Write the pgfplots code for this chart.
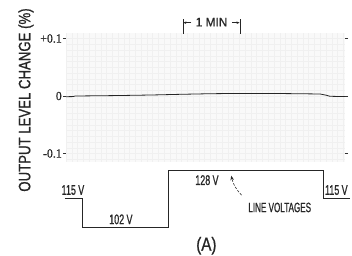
\documentclass[border=0pt]{standalone}
\usepackage{fontspec}
\setmainfont{Liberation Sans}[FakeStretch=0.8]
\newfontfamily\ylabfont{Liberation Sans}[FakeStretch=0.8,FakeBold=0.8]
\newfontfamily\labfont{Liberation Sans}[FakeStretch=0.64,FakeBold=0.8]
\newfontfamily\lvfont{Liberation Sans}[FakeStretch=0.6,FakeBold=0.8]
\newfontfamily\minfont{Liberation Sans}[FakeStretch=0.95,FakeBold=0.8]
\newfontfamily\tickfont{Liberation Serif}[FakeStretch=0.95,FakeBold=0.6]
\usepackage{pgfplots}
\pgfplotsset{compat=1.18}
\usetikzlibrary{arrows.meta}
\begin{document}
\begin{tikzpicture}[x=1pt,y=1pt]
\path[use as bounding box] (0,0) rectangle (352,255);
% y label
\node[rotate=90, font=\ylabfont\fontsize{16.5}{16}\selectfont, text=black!85] at (26,155) {OUTPUT LEVEL CHANGE (\%)};
% upper axis: output level change
\begin{axis}[
  at={(66pt,93pt)}, anchor=south west,
  scale only axis, width=279pt, height=129pt,
  xmin=0, xmax=4.83, ymin=-0.1148, ymax=0.1096,
  axis line style={draw=none},
  xtick={0,0.1,...,4.85},
  xticklabels={},
  x tick style={draw=none},
  ytick={-0.1,0,0.1},
  yticklabels={{-0.1},{0},{+0.1}},
  yticklabel style={font=\tickfont\fontsize{12.5}{13}\selectfont, text=black!85, inner sep=1pt},
  minor ytick={-0.11,-0.1,...,0.11},
  grid=both,
  minor grid style={gray!12, line width=0.3pt},
  major grid style={gray!12, line width=0.3pt},
  minor tick length=0pt,
  major tick length=3pt,
  tick align=outside,
  ytick style={black!80, line width=0.5pt},
  axis background/.style={fill=gray!5},
  clip=false,
]
\addplot[black!85, line width=0.8pt] coordinates {
  (0,-0.0012) (0.12,-0.001) (0.16,0.0) (0.9,0.0008) (1.5,0.0018) (2.0,0.003)
  (2.5,0.004) (3.0,0.0045) (3.5,0.0045) (4.0,0.004) (4.4,0.0035)
  (4.5,0.0015) (4.57,-0.0005) (4.83,-0.001)
};
% 1 MIN marker
\draw[black!85, line width=0.6pt] (axis cs:2.024,0.108) -- (axis cs:2.024,0.134);
\draw[black!85, line width=0.6pt] (axis cs:3.01,0.108) -- (axis cs:3.01,0.134);
\draw[black!85, line width=0.5pt, -{Stealth[length=3pt,width=2.5pt]}] (axis cs:2.17,0.1275) -- (axis cs:2.03,0.1275);
\draw[black!85, line width=0.5pt, -{Stealth[length=3pt,width=2.5pt]}] (axis cs:2.87,0.1275) -- (axis cs:3.004,0.1275);
\node[font=\minfont\fontsize{12.5}{12}\selectfont, text=black!85] at (axis cs:2.52,0.1285) {1 MIN};
\end{axis}
% lower axis: line voltages
\begin{axis}[
  at={(66pt,23.3pt)}, anchor=south west,
  scale only axis, width=279pt, height=66.1pt,
  xmin=0, xmax=4.83, ymin=100, ymax=130,
  hide axis,
  clip=false,
]
\addplot[black!85, line width=0.7pt, const plot] coordinates {
  (-0.02,115) (0.29,102) (1.765,128) (4.46,115) (4.91,115)
};
\node[font=\labfont\fontsize{14}{14}\selectfont, text=black!85] at (axis cs:0.12,118.9) {115\,V};
\node[font=\labfont\fontsize{14}{14}\selectfont, text=black!85] at (axis cs:0.95,105.6) {102\,V};
\node[font=\labfont\fontsize{14}{14}\selectfont, text=black!85] at (axis cs:2.44,123.4) {128\,V};
\node[font=\labfont\fontsize{14}{14}\selectfont, text=black!85] at (axis cs:4.68,118.9) {115\,V};
\node[font=\lvfont\fontsize{13.5}{13}\selectfont, text=black!85] at (axis cs:3.70,111) {LINE VOLTAGES};
\draw[black!85, line width=0.55pt, dash pattern=on 2.5pt off 1.5pt, -{Stealth[length=4.5pt,width=3.5pt]}]
  (axis cs:3.04,116.6) to[bend left=15] (axis cs:2.86,125.4);
\node[font=\ylabfont\fontsize{19}{19}\selectfont, text=black!85, inner sep=1pt] at (axis cs:2.43,93.6) {(A)};
\end{axis}
\end{tikzpicture}
\end{document}
